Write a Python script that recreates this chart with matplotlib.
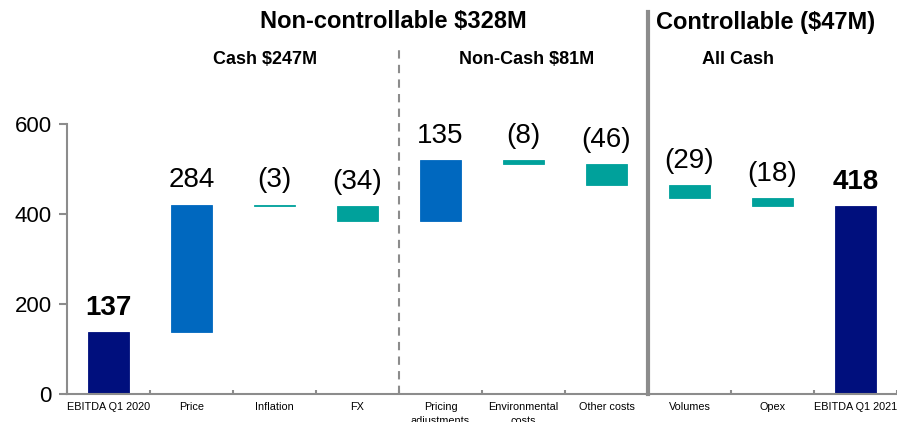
import matplotlib
matplotlib.use("Agg")
from matplotlib import pyplot as plt
import numpy as np

plt.rcParams['font.family'] = ['Liberation Sans', 'DejaVu Sans']

categories = ["EBITDA Q1 2020", "Price", "Inflation", "FX", "Pricing\nadjustments",
              "Environmental\ncosts", "Other costs", "Volumes", "Opex", "EBITDA Q1 2021"]
changes = [137, 284, -3, -34, 135, -8, -46, -29, -18, 418]
labels = ["137", "284", "(3)", "(34)", "135", "(8)", "(46)", "(29)", "(18)", "418"]
kinds = ["total", "up", "down", "down", "up", "down", "down", "down", "down", "total"]

colors = {"total": "#000F7D", "up": "#0068BF", "down": "#00A19B"}
grey = "#8C8C8C"

fig = plt.figure(figsize=(8.97, 4.22), dpi=100)
ax = fig.add_axes([67 / 897, 28 / 422, 830 / 897, 270 / 422])

running = 0
bottoms, heights = [], []
for ch, k in zip(changes, kinds):
    if k == "total":
        bottoms.append(0)
        heights.append(ch)
        running = ch
    else:
        new = running + ch
        bottoms.append(min(running, new))
        heights.append(abs(ch))
        running = new

x = np.arange(len(categories))
bar_colors = [colors[k] for k in kinds]
ax.bar(x, heights, bottom=bottoms, width=0.5, color=bar_colors,
       edgecolor=bar_colors, linewidth=0.6)

for i, (b, h, lab, k) in enumerate(zip(bottoms, heights, labels, kinds)):
    top = b + h
    ax.annotate(lab, (i, top), xytext=(0, 8), textcoords="offset points",
                ha="center", va="bottom", fontsize=20,
                fontweight="bold" if k == "total" else "normal", clip_on=False)

ax.set_xlim(-0.5, len(categories) - 0.5)
ax.set_ylim(0, 600)
ax.set_yticks([0, 200, 400, 600])
ax.tick_params(axis="y", labelsize=16, color=grey, length=6, width=1.5, pad=5)
ax.set_xticks(x)
ax.set_xticklabels(categories, fontsize=7.8, linespacing=1.45)
ax.set_xticks(np.arange(-0.5, len(categories)), minor=True)
ax.tick_params(axis="x", which="major", length=0, pad=6)
ax.tick_params(axis="x", which="minor", length=3, color=grey, width=1.5, direction="in")
for s in ["top", "right"]:
    ax.spines[s].set_visible(False)
for s in ["left", "bottom"]:
    ax.spines[s].set_color(grey)
    ax.spines[s].set_linewidth(1.5)

# section separators
ax.plot([3.5, 3.5], [0, 1.293], transform=ax.get_xaxis_transform(), color=grey,
        linestyle=(0, (4, 3)), linewidth=1.5, clip_on=False)
ax.plot([6.5, 6.5], [0, 1.415], transform=ax.get_xaxis_transform(), color=grey,
        linewidth=3, clip_on=False)

# headers
fig.text(393 / 897, 1 - 22 / 422, "Non-controllable $328M", ha="center", va="center",
         fontsize=17, fontweight="bold")
fig.text(766 / 897, 1 - 22 / 422, "Controllable ($47M)", ha="center", va="center",
         fontsize=17, fontweight="bold")
fig.text(265 / 897, 1 - 60 / 422, "Cash $247M", ha="center", va="center",
         fontsize=13, fontweight="bold")
fig.text(527 / 897, 1 - 60 / 422, "Non-Cash $81M", ha="center", va="center",
         fontsize=13, fontweight="bold")
fig.text(738 / 897, 1 - 60 / 422, "All Cash", ha="center", va="center",
         fontsize=13, fontweight="bold")

fig.savefig("out.png", dpi=100)
